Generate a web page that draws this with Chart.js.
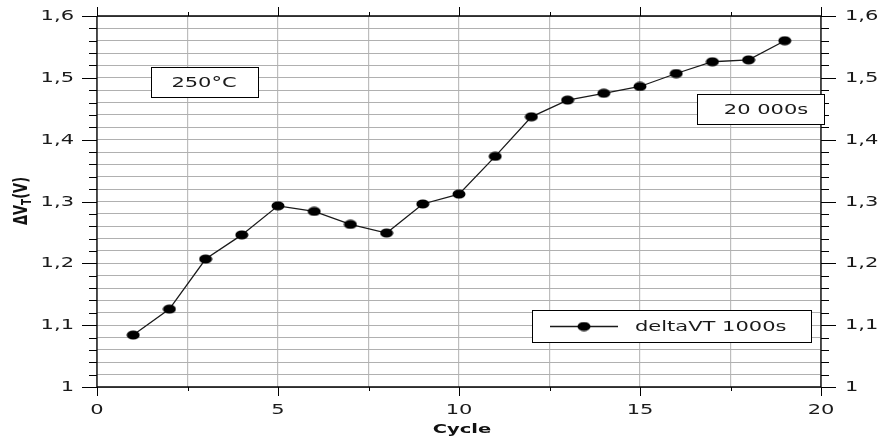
<!DOCTYPE html>
<html><head><meta charset="utf-8">
<script src="https://cdn.jsdelivr.net/npm/chart.js@4.4.1/dist/chart.umd.min.js"></script>
<style>html,body{margin:0;padding:0;background:#fff;}#wrap{width:878px;height:441px;position:relative;}</style>
</head><body><div id="wrap"><canvas id="c" width="878" height="441"></canvas></div>
<script>
const cycles = [1,2,3,4,5,6,7,8,9,10,11,12,13,14,15,16,17,18,19];
const deltaVT = [1.084,1.126,1.207,1.246,1.293,1.284,1.263,1.249,1.296,1.312,1.373,1.437,1.464,1.475,1.486,1.507,1.526,1.529,1.560];
const seriesName = 'deltaVT 1000s';
const xTitle = 'Cycle';
const noteTemp = '250°C';
const noteTime = '20 000s';
const FONT = "'DejaVu Sans', Verdana, sans-serif";
const SX = 1.5; // horizontal text stretch seen in the reference

function isMajorY(v){ return Math.abs(v*10 - Math.round(v*10)) < 1e-6; }
function fmtY(v){ return isMajorY(v) ? (Math.round(v*10)/10).toString().replace('.', ',') : ''; }
function isMajorX(v){ return Math.abs(v/5 - Math.round(v/5)) < 1e-6; }

// elliptical marker
const marker = document.createElement('canvas');
marker.width = 14; marker.height = 10;
(function(){ const m = marker.getContext('2d'); m.fillStyle = '#000'; m.beginPath(); m.ellipse(7, 5, 6.5, 4.6, 0, 0, Math.PI*2); m.fill(); })();

function stretchText(ctx, text, x, y, align, font, color){
  ctx.save();
  ctx.font = font;
  const w = ctx.measureText(text).width * SX;
  let left = x;
  if (align === 'center') left = x - w/2;
  else if (align === 'right') left = x - w;
  ctx.translate(left, y);
  ctx.scale(SX, 1);
  ctx.fillStyle = color || '#1a1a1a';
  ctx.textAlign = 'left';
  ctx.textBaseline = 'middle';
  ctx.fillText(text, 0, 0);
  ctx.restore();
}

const framePlugin = {
  id: 'frame',
  afterDraw(chart){
    const ctx = chart.ctx, a = chart.chartArea;
    const ys = chart.scales.y, xs = chart.scales.x;
    ctx.save();
    ctx.strokeStyle = '#000'; ctx.lineWidth = 1.3;
    ctx.beginPath();
    ctx.moveTo(a.left, a.top); ctx.lineTo(a.right, a.top);
    ctx.moveTo(a.left, a.bottom); ctx.lineTo(a.right, a.bottom);
    ctx.moveTo(a.left, a.top); ctx.lineTo(a.left, a.bottom);
    ctx.moveTo(a.right, a.top); ctx.lineTo(a.right, a.bottom);
    ctx.stroke();
    ctx.lineWidth = 1;
    ctx.beginPath();
    ys.ticks.forEach(t => {
      const p = Math.round(ys.getPixelForValue(t.value)) + 0.5;
      const L = isMajorY(t.value) ? 15 : 8;
      ctx.moveTo(a.left - L, p); ctx.lineTo(a.left, p);
      ctx.moveTo(a.right, p); ctx.lineTo(a.right + L, p);
    });
    xs.ticks.forEach(t => {
      const p = Math.round(xs.getPixelForValue(t.value)) + 0.5;
      const L = isMajorX(t.value) ? 9 : 4;
      ctx.moveTo(p, a.bottom); ctx.lineTo(p, a.bottom + L);
      ctx.moveTo(p, a.top - L); ctx.lineTo(p, a.top);
    });
    ctx.stroke();

    const tf = '14px ' + FONT;
    // tick labels from the scales
    ys.ticks.forEach(t => {
      const lab = fmtY(t.value); if (!lab) return;
      const p = ys.getPixelForValue(t.value);
      stretchText(ctx, lab, a.left - 23, p + 0.5, 'right', tf);
      stretchText(ctx, lab, a.right + 24, p + 0.5, 'left', tf);
    });
    xs.ticks.forEach(t => {
      if (!isMajorX(t.value)) return;
      const p = xs.getPixelForValue(t.value);
      stretchText(ctx, String(Math.round(t.value)), p, a.bottom + 23, 'center', tf);
    });
    // x title
    stretchText(ctx, xTitle, (a.left + a.right)/2 + 3, 430, 'center', 'bold 13px ' + FONT, '#111');

    // annotation boxes
    function box(x, y, w, h, text, tx){
      ctx.fillStyle = '#fff';
      ctx.fillRect(x, y, w, h);
      ctx.strokeStyle = '#000'; ctx.lineWidth = 1;
      ctx.strokeRect(x + 0.5, y + 0.5, w, h);
      stretchText(ctx, text, tx, y + h/2 + 1, 'center', tf);
    }
    box(151, 67, 107, 30, noteTemp, 204);
    box(697, 94, 127, 30, noteTime, 766);

    // legend
    const lx = 532, ly = 310, lw = 279, lh = 32;
    ctx.fillStyle = '#fff'; ctx.fillRect(lx, ly, lw, lh);
    ctx.strokeStyle = '#000'; ctx.lineWidth = 1;
    ctx.strokeRect(lx + 0.5, ly + 0.5, lw, lh);
    const ds = chart.data.datasets[0];
    ctx.strokeStyle = ds.borderColor; ctx.lineWidth = 1.3;
    ctx.beginPath(); ctx.moveTo(550, ly + lh/2 + 0.5); ctx.lineTo(618, ly + lh/2 + 0.5); ctx.stroke();
    ctx.drawImage(marker, 584 - 7, ly + lh/2 + 0.5 - 5);
    stretchText(ctx, ds.label, 635, ly + lh/2 + 1, 'left', tf);

    // y title: ΔV_T(V)
    ctx.save();
    ctx.translate(22, 201);
    ctx.rotate(-Math.PI/2);
    ctx.scale(1, SX);
    ctx.fillStyle = '#111';
    ctx.textBaseline = 'middle';
    const f1 = 'bold 13px ' + FONT, f2 = 'bold 9px ' + FONT;
    ctx.font = f1; const w1 = ctx.measureText('ΔV').width, w3 = ctx.measureText('(V)').width;
    ctx.font = f2; const w2 = ctx.measureText('T').width;
    let x0 = -(w1 + w2 + w3)/2;
    ctx.textAlign = 'left';
    ctx.font = f1; ctx.fillText('ΔV', x0, 0); x0 += w1;
    ctx.font = f2; ctx.fillText('T', x0, 3.5); x0 += w2;
    ctx.font = f1; ctx.fillText('(V)', x0, 0);
    ctx.restore();
    ctx.restore();
  }
};

new Chart(document.getElementById('c'), {
  type: 'line',
  data: {
    datasets: [{
      label: seriesName,
      data: cycles.map((c, i) => ({x: c, y: deltaVT[i]})),
      borderColor: '#1a1a1a',
      borderWidth: 1.3,
      pointStyle: marker,
      pointRadius: 6,
      tension: 0,
      fill: false
    }]
  },
  options: {
    responsive: false,
    animation: false,
    layout: { autoPadding: false, padding: { top: 16, left: 0, right: 0, bottom: 0 } },
    plugins: { legend: { display: false }, tooltip: { enabled: false } },
    scales: {
      x: {
        type: 'linear', min: 0, max: 20,
        afterFit(s){ s.height = 54; },
        ticks: { stepSize: 2.5, autoSkip: false, display: false, callback: v => isMajorX(v) ? String(Math.round(v)) : '' },
        grid: { color: '#bdbdbd', lineWidth: 1.2, drawTicks: false },
        border: { display: false }
      },
      y: {
        type: 'linear', position: 'left', min: 1, max: 1.6,
        afterFit(s){ s.width = 97; },
        ticks: { stepSize: 0.02, autoSkip: false, display: false, callback: v => fmtY(v) },
        grid: { color: '#b0b0b0', lineWidth: 1, drawTicks: false },
        border: { display: false }
      },
      y2: {
        type: 'linear', position: 'right', min: 1, max: 1.6,
        afterFit(s){ s.width = 57; },
        ticks: { stepSize: 0.02, autoSkip: false, display: false, callback: v => fmtY(v) },
        grid: { display: false, drawTicks: false },
        border: { display: false }
      }
    }
  },
  plugins: [framePlugin]
});
</script></body></html>
